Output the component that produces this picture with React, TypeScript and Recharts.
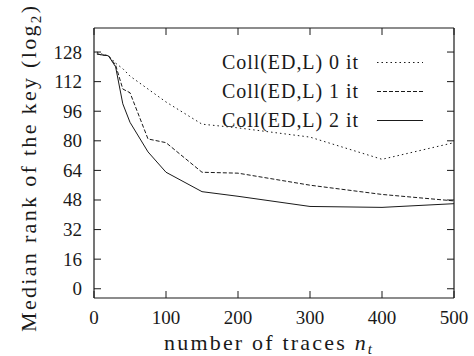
import React from 'react';
import { LineChart, Line, XAxis, YAxis } from 'recharts';

// number of traces
const traces = [4, 10, 20, 30, 40, 50, 75, 100, 150, 200, 300, 400, 500];
// median rank (log2) per number of iterations
const it0 = [128, 127, 126, 122, 119, 115, 108, 101, 89, 87, 82, 70, 79];
const it1 = [127, 126.5, 126, 121, 108, 106, 81, 79, 63, 62.5, 56, 51, 47.5];
const it2 = [127, 126.5, 126, 120, 100, 90, 74, 63, 52.5, 50, 44.5, 44, 46];

const seriesNames = ['Coll(ED,L) 0 it', 'Coll(ED,L) 1 it', 'Coll(ED,L) 2 it'];
const xTicks = [0, 100, 200, 300, 400, 500];
const yTicks = [0, 16, 32, 48, 64, 80, 96, 112, 128];

const dashes = ['1.5 3', '4 2', undefined];
const ink = '#1a1a1a';
const font = "'Liberation Serif', 'DejaVu Serif', serif";
const TL = 7; // inward tick length

const W = 474;
const H = 356;
const margin = { top: 28, right: 20, bottom: 28, left: 34 };
const xAxisH = 30;
const yAxisW = 60;
const plotLeft = margin.left + yAxisW;
const plotTop = margin.top;
const plotRight = W - margin.right;
const plotBottom = H - margin.bottom - xAxisH;

const rows = traces.map((x, i) => ({ x, it0: it0[i], it1: it1[i], it2: it2[i] }));
const keys = ['it0', 'it1', 'it2'];
const xDomain = [0, 500];
const yDomain = [-5, 141];

// same linear mapping the axes use, for the mirrored ticks on the top/right frame
const xPos = (v: number) => plotLeft + ((v - xDomain[0]) / (xDomain[1] - xDomain[0])) * (plotRight - plotLeft);
const yPos = (v: number) => plotTop + ((yDomain[1] - v) / (yDomain[1] - yDomain[0])) * (plotBottom - plotTop);

// ticks point into the plot, labels stay outside
const BottomTick = ({ x, y, payload }: any) => (
  <g>
    <line x1={x} x2={x} y1={y} y2={y - TL} stroke={ink} />
    <text x={x} y={y + 26} textAnchor="middle" fontFamily={font} fontSize={19} fill={ink}>{payload.value}</text>
  </g>
);
const LeftTick = ({ x, y, payload }: any) => (
  <g>
    <line x1={x} x2={x + TL} y1={y} y2={y} stroke={ink} />
    <text x={x - 12} y={y + 6.5} textAnchor="end" fontFamily={font} fontSize={19} fill={ink}>{payload.value}</text>
  </g>
);

const frame = { stroke: ink, strokeWidth: 1.2 };

const App: React.FC = () => {
  return (
    <div style={{ position: 'absolute', left: 0, top: 0, width: W, height: H, background: '#fff' }}>
      <LineChart width={W} height={H} data={rows} margin={margin}>
        <XAxis dataKey="x" type="number" domain={xDomain} ticks={xTicks}
          tickLine={false} tickSize={0} tickMargin={0} height={xAxisH} axisLine={frame} tick={<BottomTick />} />
        <YAxis type="number" domain={yDomain} ticks={yTicks}
          tickLine={false} tickSize={0} tickMargin={0} width={yAxisW} axisLine={frame} tick={<LeftTick />} />
        {keys.map((k, i) => (
          <Line key={k} type="linear" dataKey={k}
            stroke={ink} strokeWidth={1} strokeDasharray={dashes[i]}
            dot={false} isAnimationActive={false} />
        ))}
      </LineChart>
      <svg width={W} height={H} style={{ position: 'absolute', left: 0, top: 0, pointerEvents: 'none' }}>
        {/* top and right sides of the frame with their inward ticks */}
        <line x1={plotLeft} x2={plotRight} y1={plotTop} y2={plotTop} stroke={ink} strokeWidth={1.2} />
        <line x1={plotRight} x2={plotRight} y1={plotTop} y2={plotBottom} stroke={ink} strokeWidth={1.2} />
        {xTicks.map((v) => (
          <line key={'tx' + v} x1={xPos(v)} x2={xPos(v)} y1={plotTop} y2={plotTop + TL} stroke={ink} />
        ))}
        {yTicks.map((v) => (
          <line key={'ty' + v} x1={plotRight} x2={plotRight - TL} y1={yPos(v)} y2={yPos(v)} stroke={ink} />
        ))}
        <text transform="translate(36,169) rotate(-90)" textAnchor="middle"
          fontFamily={font} fontSize={22} fill={ink} textLength={326} lengthAdjust="spacing">
          Median rank of the key (log<tspan fontSize={15} dy={5}>2</tspan><tspan dy={-5}>)</tspan>
        </text>
        <text x={268} y={350} textAnchor="middle" fontFamily={font} fontSize={22} fill={ink}
          textLength={208} lengthAdjust="spacing">
          number of traces <tspan fontStyle="italic">n</tspan><tspan fontStyle="italic" fontSize={15} dy={4}>t</tspan>
        </text>
        {seriesNames.map((name, i) => (
          <g key={name}>
            <text x={358} y={69 + i * 29} textAnchor="end" fontFamily={font} fontSize={20} fill={ink}
              textLength={136} lengthAdjust="spacing">{name}</text>
            <line x1={377} x2={423} y1={62.5 + i * 29} y2={62.5 + i * 29} stroke={ink} strokeWidth={1}
              strokeDasharray={dashes[i]} />
          </g>
        ))}
      </svg>
    </div>
  );
};

export default App;
